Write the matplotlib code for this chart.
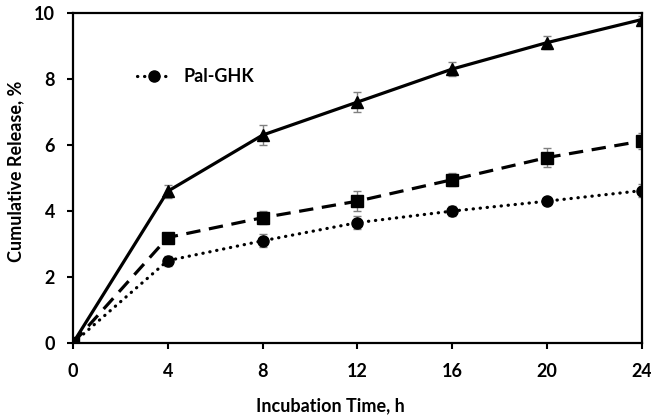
import matplotlib
matplotlib.use("Agg")
import matplotlib.pyplot as plt
from matplotlib.lines import Line2D

time_h = [0, 4, 8, 12, 16, 20, 24]
tri_vals = [0, 4.6, 6.3, 7.3, 8.3, 9.1, 9.8]
tri_err = [0, 0.2, 0.3, 0.3, 0.2, 0.2, 0.1]
sq_vals = [0, 3.2, 3.8, 4.3, 4.95, 5.62, 6.12]
sq_err = [0, 0.1, 0.2, 0.3, 0.2, 0.3, 0.25]
circ_vals = [0, 2.5, 3.1, 3.65, 4.0, 4.3, 4.62]
circ_err = [0, 0.15, 0.2, 0.2, 0.15, 0.1, 0.2]
legend_label = "Pal-GHK"

plt.rcParams['font.family'] = ['Lato', 'DejaVu Sans']
plt.rcParams['font.weight'] = 'bold'

fig = plt.figure(figsize=(6.51, 4.16), dpi=100)
ax = fig.add_axes([0.112, 0.175, 0.874, 0.794])

dotted = (0, (0.1, 2.1))
dashed = (0, (4.5, 2.7))
ekw = dict(ecolor='#808080', elinewidth=1, capsize=3, capthick=1)
ax.errorbar(time_h, tri_vals, yerr=tri_err, color='black', lw=2.3, ls='-',
            marker='^', ms=8.5, **ekw)
ax.errorbar(time_h, sq_vals, yerr=sq_err, color='black', lw=2.3, ls=dashed,
            marker='s', ms=8, **ekw)
c = ax.errorbar(time_h, circ_vals, yerr=circ_err, color='black', lw=2.3, ls=dotted,
                marker='o', ms=8, **ekw)
c.lines[0].set_dash_capstyle('round')

ax.set_xlim(0, 24)
ax.set_ylim(0, 10)
ax.set_xticks(time_h)
ax.set_yticks([0, 2, 4, 6, 8, 10])
for s in ax.spines.values():
    s.set_linewidth(1.6)
ax.tick_params(axis='both', direction='out', length=4, width=1.5, labelsize=13)
ax.tick_params(axis='x', pad=10)
ax.tick_params(axis='y', pad=9)
for lbl in ax.get_xticklabels() + ax.get_yticklabels():
    lbl.set_fontweight('bold')
ax.set_xlabel("Incubation Time, h", fontsize=13, fontweight='bold')
ax.xaxis.set_label_coords(0.453, -0.165)
ax.set_ylabel("Cumulative Release, %", fontsize=13, fontweight='bold')
ax.yaxis.set_label_coords(-0.085, 0.52)

handle = Line2D([], [], color='black', lw=2.3, ls=dotted, marker='o', ms=8,
                dash_capstyle='round')
ax.legend([handle], [legend_label], frameon=False, loc='center left',
          bbox_to_anchor=(0.112, 0.806), borderpad=0, borderaxespad=0,
          handlelength=1.9, handletextpad=0.7,
          prop={'weight': 'bold', 'size': 13})

fig.savefig("out.png", dpi=100)
